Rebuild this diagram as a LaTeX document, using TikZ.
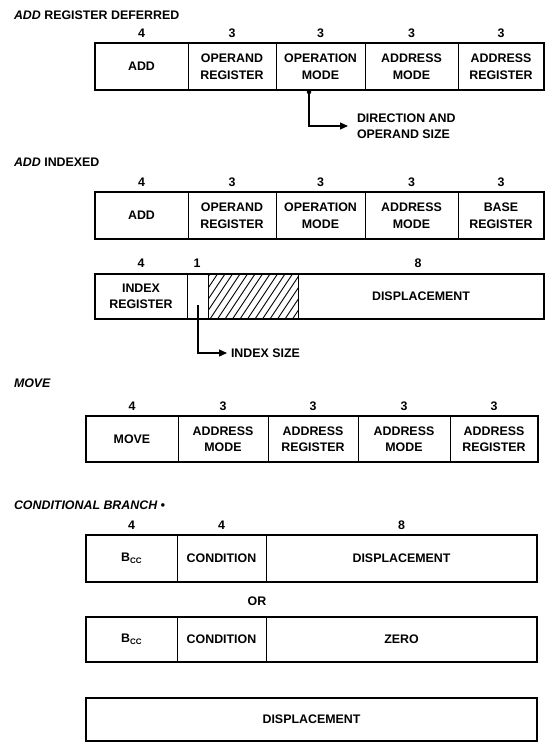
\documentclass[tikz,border=0pt]{standalone}
\usepackage{fontspec}
\setmainfont{Liberation Sans}
\usetikzlibrary{arrows.meta}
\newcommand\fcell[6]{%
  \node[cell, minimum width={(#4-#2)*1pt}, minimum height={(#5-#3)*1pt}]
    (#1) at ({(#2+#4)/2},{(#3+#5)/2}) {#6};}
\newcommand\bcc{B\raisebox{-2.5pt}{\fontsize{8}{8}\selectfont CC}}
\begin{document}
\begin{tikzpicture}[x=1pt,y=-1pt,
  every node/.style={inner sep=0pt, outer sep=0pt},
  txt/.style={font=\bfseries\fontsize{12.4}{16.5}\selectfont},
  cell/.style={txt, draw, line width=1pt, align=center},
  frame/.style={line width=1.7pt},
  num/.style={txt},
  title/.style={txt, anchor=west},
  conn/.style={line width=1.2pt, -{Triangle[length=8pt,width=7pt]}},
  dotn/.style={circle, fill, minimum size=4.5pt},
  hatchline/.style={line width=0.9pt}
]
\useasboundingbox (0,0) rectangle (548,747);

% ---------- ADD REGISTER DEFERRED ----------
\node[title] (tA) at (14,15) {{\itshape ADD} REGISTER DEFERRED};
\fcell{a1}{95}{43}{188}{90}{ADD}
\fcell{a2}{188}{43}{276}{90}{OPERAND\\REGISTER}
\fcell{a3}{276}{43}{365}{90}{OPERATION\\MODE}
\fcell{a4}{365}{43}{458}{90}{ADDRESS\\MODE}
\fcell{a5}{458}{43}{544}{90}{ADDRESS\\REGISTER}
\draw[frame] (a1.north west) rectangle (a5.south east);
\foreach \n/\v in {a1/4,a2/3,a3/3,a4/3,a5/3}
  \node[num] (n\n) at ([yshift=10pt]\n.north) {\v};
\node[dotn] (dA) at (309,92) {};
\node[txt, anchor=west, align=left] (dir) at (357,126) {DIRECTION AND\\OPERAND SIZE};
\draw[conn] (dA.center) |- ([xshift=-9pt]dir.west);

% ---------- ADD INDEXED ----------
\node[title] (tB) at (14,162) {{\itshape ADD} INDEXED};
\fcell{b1}{95}{192}{188}{239}{ADD}
\fcell{b2}{188}{192}{276}{239}{OPERAND\\REGISTER}
\fcell{b3}{276}{192}{365}{239}{OPERATION\\MODE}
\fcell{b4}{365}{192}{458}{239}{ADDRESS\\MODE}
\fcell{b5}{458}{192}{544}{239}{BASE\\REGISTER}
\draw[frame] (b1.north west) rectangle (b5.south east);
\foreach \n/\v in {b1/4,b2/3,b3/3,b4/3,b5/3}
  \node[num] (n\n) at ([yshift=10pt]\n.north) {\v};

\fcell{c1}{95}{274}{187}{319}{INDEX\\REGISTER}
\fcell{c2}{187}{274}{208}{319}{}
\fcell{c3}{208}{274}{298}{319}{}
\fcell{c4}{298}{274}{544}{319}{DISPLACEMENT}
\begin{scope}
  \clip (c3.north west) rectangle (c3.south east);
  \foreach \x in {180,187.5,...,310}
    \draw[hatchline] (\x,319) -- (\x+30,274);
\end{scope}
\draw[line width=1pt] (c3.north west) rectangle (c3.south east);
\draw[frame] (c1.north west) rectangle (c4.south east);
\node[num] (nc1) at (141,263) {4};
\node[num] (nc2) at (197,263) {1};
\node[num] (nc4) at (418,263) {8};
\coordinate (iS) at (198,305);
\node[txt, anchor=west] (isz) at (231,353) {INDEX SIZE};
\draw[conn] (iS) |- ([xshift=-4pt]isz.west);

% ---------- MOVE ----------
\node[title] (tC) at (14,383) {\itshape MOVE};
\fcell{m1}{86}{416}{178}{462}{MOVE}
\fcell{m2}{178}{416}{268}{462}{ADDRESS\\MODE}
\fcell{m3}{268}{416}{358}{462}{ADDRESS\\REGISTER}
\fcell{m4}{358}{416}{450}{462}{ADDRESS\\MODE}
\fcell{m5}{450}{416}{538}{462}{ADDRESS\\REGISTER}
\draw[frame] (m1.north west) rectangle (m5.south east);
\foreach \n/\v in {m1/4,m2/3,m3/3,m4/3,m5/3}
  \node[num] (n\n) at ([yshift=10pt]\n.north) {\v};

% ---------- CONDITIONAL BRANCH ----------
\node[title] (tD) at (14,505) {\itshape CONDITIONAL BRANCH •};
\fcell{d1}{86}{535}{177}{582}{\bcc}
\fcell{d2}{177}{535}{266}{582}{CONDITION}
\fcell{d3}{266}{535}{537}{582}{DISPLACEMENT}
\draw[frame] (d1.north west) rectangle (d3.south east);
\foreach \n/\v in {d1/4,d2/4,d3/8}
  \node[num] (n\n) at ([yshift=10pt]\n.north) {\v};
\node[txt] (or) at (257,601) {OR};
\fcell{e1}{86}{617}{177}{662}{\bcc}
\fcell{e2}{177}{617}{266}{662}{CONDITION}
\fcell{e3}{266}{617}{537}{662}{ZERO}
\draw[frame] (e1.north west) rectangle (e3.south east);
\fcell{f1}{86}{698}{537}{741}{DISPLACEMENT}
\draw[frame] (f1.north west) rectangle (f1.south east);
\end{tikzpicture}
\end{document}
